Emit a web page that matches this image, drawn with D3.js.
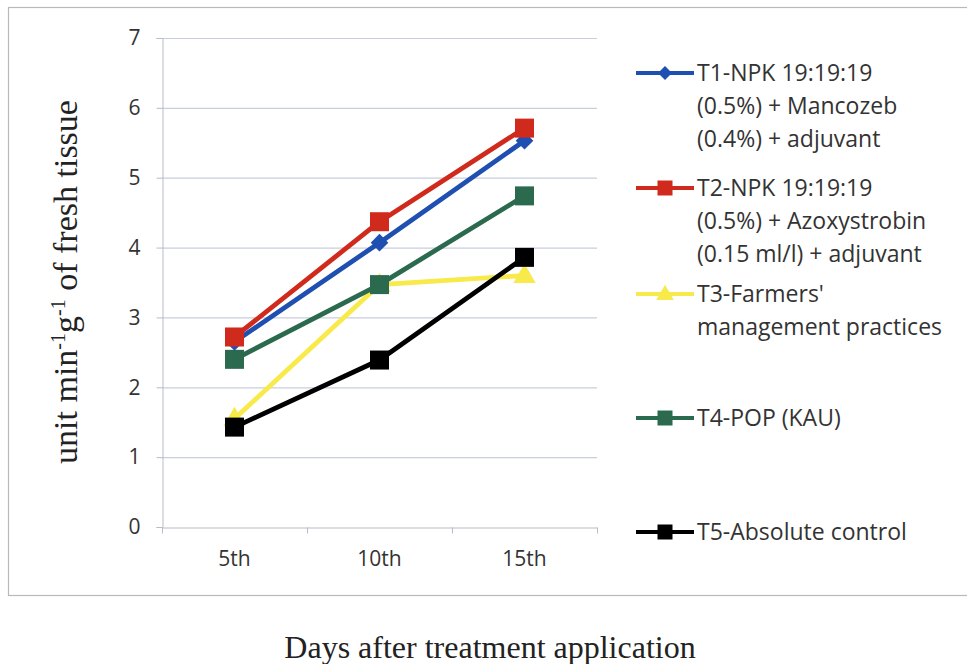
<!DOCTYPE html>
<html>
<head>
<meta charset="utf-8">
<script src="https://cdn.jsdelivr.net/npm/d3@7"></script>
<style>
  html, body { margin: 0; padding: 0; background: #fff; }
  svg { display: block; }
</style>
</head>
<body>
<svg id="chart" width="967" height="664"></svg>
<script>
// Days after treatment
const categories = ["5th", "10th", "15th"];
const yTicks = [0, 1, 2, 3, 4, 5, 6, 7];

// Enzyme activity per treatment
const seriesNames = [
  ["T1-NPK 19:19:19", "(0.5%) + Mancozeb", "(0.4%) + adjuvant"],
  ["T2-NPK 19:19:19", "(0.5%) + Azoxystrobin", "(0.15 ml/l) + adjuvant"],
  ["T3-Farmers'", "management practices"],
  ["T4-POP (KAU)"],
  ["T5-Absolute control"]
];
const t1Values = [2.65, 4.07, 5.53];
const t2Values = [2.72, 4.37, 5.71];
const t3Values = [1.55, 3.47, 3.6];
const t4Values = [2.4, 3.47, 4.74];
const t5Values = [1.43, 2.39, 3.86];
const seriesValues = [t1Values, t2Values, t3Values, t4Values, t5Values];

const colors = ["#1f4fb0", "#d02a1c", "#f7ea4a", "#2b6a4e", "#000000"];
const markers = ["diamond", "square", "triangle", "square", "square"];

const sans = "'Open Sans', sans-serif";
const serif = "'Liberation Serif', 'Times New Roman', serif";

const svg = d3.select("#chart");

// outer frame
svg.append("rect")
  .attr("x", 8.5).attr("y", 7.5)
  .attr("width", 975).attr("height", 588)
  .attr("fill", "none").attr("stroke", "#b9b9b9").attr("stroke-width", 1.2);

const plot = { left: 162, right: 597, top: 38, bottom: 527 };

const x = d3.scaleBand().domain(categories).range([plot.left, plot.right]);
const y = d3.scaleLinear().domain([0, 7]).range([plot.bottom, plot.top]);

// horizontal gridlines
svg.append("g")
  .selectAll("line")
  .data(yTicks.filter(d => d > 0))
  .join("line")
  .attr("x1", plot.left).attr("x2", plot.right)
  .attr("y1", d => y(d) + 0.5).attr("y2", d => y(d) + 0.5)
  .attr("stroke", "#c9cede").attr("stroke-width", 1.2);

// y axis
const yAxis = svg.append("g")
  .attr("transform", `translate(${plot.left + 0.5},0)`)
  .call(d3.axisLeft(y).tickValues(yTicks).tickSize(6).tickPadding(16).tickFormat(d3.format("d")));
yAxis.select(".domain").attr("stroke", "#b8bcc8");
yAxis.selectAll(".tick line").attr("stroke", "#b8bcc8");
yAxis.selectAll("text")
  .attr("font-family", sans)
  .attr("font-size", 21).attr("fill", "#333");

// x axis
const xAxis = svg.append("g")
  .attr("transform", `translate(0,${plot.bottom + 0.5})`)
  .call(d3.axisBottom(x).tickSizeInner(0).tickSizeOuter(0).tickPadding(24));
xAxis.select(".domain").attr("stroke", "#b8bcc8").attr("stroke-width", 1.2);
xAxis.selectAll("text")
  .attr("font-family", sans)
  .attr("font-size", 21).attr("fill", "#333");
// category boundary ticks
const bounds = categories.map(c => x(c)).concat([x.range()[1]]);
xAxis.selectAll(".bound")
  .data(bounds)
  .join("line")
  .attr("class", "bound")
  .attr("x1", d => d + 0.5).attr("x2", d => d + 0.5)
  .attr("y1", 0).attr("y2", 6)
  .attr("stroke", "#b8bcc8");

const cx = c => x(c) + x.bandwidth() / 2;

function drawMarker(g, type, color, px, py, s) {
  if (type === "square") {
    g.append("rect")
      .attr("x", px - s / 2).attr("y", py - s / 2)
      .attr("width", s).attr("height", s)
      .attr("fill", color);
  } else if (type === "diamond") {
    g.append("path")
      .attr("d", d3.symbol().type(d3.symbolDiamond2).size(s * s * 0.55)())
      .attr("transform", `translate(${px},${py})`)
      .attr("fill", color);
  } else {
    g.append("path")
      .attr("d", d3.symbol().type(d3.symbolTriangle).size(s * s * 0.6)())
      .attr("transform", `translate(${px},${py + 1})`)
      .attr("fill", color);
  }
}

const line = d3.line()
  .x((d, i) => cx(categories[i]))
  .y(d => y(d));

// series are painted so that later treatments sit beneath earlier ones
const order = [2, 4, 3, 0, 1];
order.forEach(si => {
  const g = svg.append("g");
  g.append("path")
    .datum(seriesValues[si])
    .attr("d", line)
    .attr("fill", "none")
    .attr("stroke", colors[si])
    .attr("stroke-width", 4.8)
    .attr("stroke-linejoin", "round");
  seriesValues[si].forEach((v, i) => drawMarker(g, markers[si], colors[si], cx(categories[i]), y(v), 19));
});

// legend
const legendRows = [73, 188, 294, 418, 532];
const lineGap = 33;
seriesNames.forEach((lines, si) => {
  const g = svg.append("g");
  const ly = legendRows[si];
  g.append("line")
    .attr("x1", 636).attr("x2", 694)
    .attr("y1", ly).attr("y2", ly)
    .attr("stroke", colors[si]).attr("stroke-width", 4);
  drawMarker(g, markers[si], colors[si], 665, ly, 15);
  lines.forEach((t, li) => {
    g.append("text")
      .attr("x", 697)
      .attr("y", ly + li * lineGap + 8)
      .attr("font-family", sans)
      .attr("font-size", 23)
      .attr("fill", "#333")
      .text(t);
  });
});

// y axis title with superscripts
const yTitle = svg.append("text")
  .attr("transform", "translate(77,282) rotate(-90)")
  .attr("text-anchor", "middle")
  .attr("font-family", serif)
  .attr("font-size", 34)
  .attr("fill", "#222");
yTitle.append("tspan").text("unit min");
yTitle.append("tspan").attr("dy", -12).attr("font-size", 20).text("-1");
yTitle.append("tspan").attr("dy", 12).text("g");
yTitle.append("tspan").attr("dy", -12).attr("font-size", 20).text("-1");
yTitle.append("tspan").attr("dy", 12).text(" of fresh tissue");

// x axis title
svg.append("text")
  .attr("x", 490).attr("y", 658)
  .attr("text-anchor", "middle")
  .attr("font-family", serif)
  .attr("font-size", 32)
  .attr("fill", "#222")
  .text("Days after treatment application");
</script>
</body>
</html>
